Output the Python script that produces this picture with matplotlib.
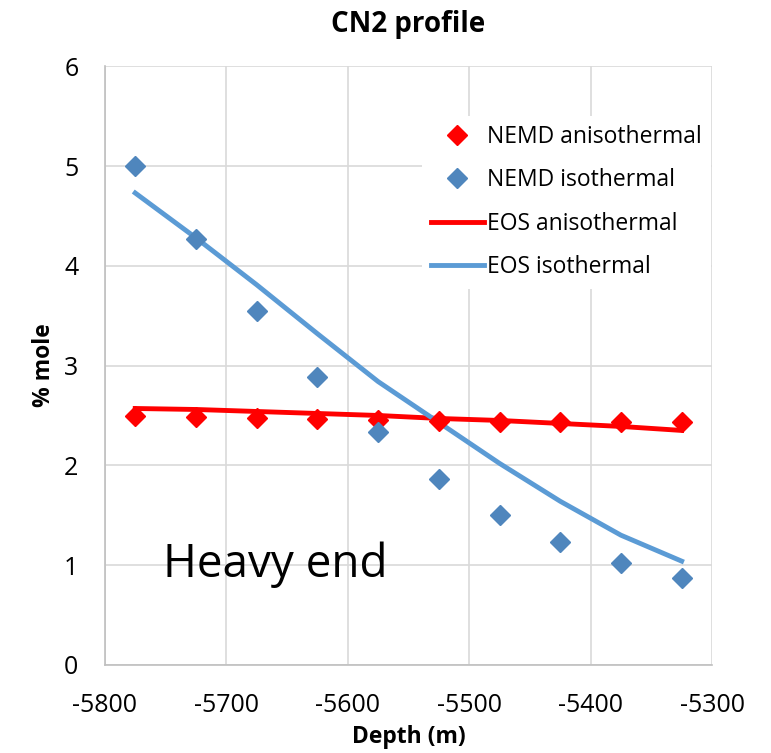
import numpy as np
import matplotlib.pyplot as plt

plt.rcParams['font.family'] = ['Open Sans', 'DejaVu Sans']
plt.rcParams['axes.unicode_minus'] = False

# Depth positions (m)
depth = [-5775, -5725, -5675, -5625, -5575, -5525, -5475, -5425, -5375, -5325]

# NEMD results (% mole)
nemd_aniso = [2.49, 2.48, 2.47, 2.46, 2.45, 2.44, 2.43, 2.43, 2.43, 2.43]
nemd_iso = [5.00, 4.27, 3.55, 2.89, 2.33, 1.86, 1.50, 1.23, 1.02, 0.87]

# EOS results (% mole)
eos_aniso = [2.57, 2.56, 2.54, 2.52, 2.50, 2.47, 2.45, 2.42, 2.39, 2.35]
eos_iso = [4.73, 4.28, 3.81, 3.32, 2.84, 2.43, 2.02, 1.64, 1.30, 1.04]

fig = plt.figure(figsize=(7.71, 7.53), dpi=100)
ax = fig.add_axes([0.136, 0.117, 0.7875, 0.795])

ax.plot(depth, nemd_aniso, linestyle='none', marker='D', markersize=10.5,
        color='#ff0000', label='NEMD anisothermal', zorder=4)
ax.plot(depth, nemd_iso, linestyle='none', marker='D', markersize=10.5,
        color='#4f86bd', label='NEMD isothermal', zorder=4)
ax.plot(depth, eos_aniso, color='#ff0000', lw=3.5, label='EOS anisothermal', zorder=3)
ax.plot(depth, eos_iso, color='#5b9bd5', lw=3.5, label='EOS isothermal', zorder=3)

ax.set_xlim(-5800, -5300)
ax.set_ylim(0, 6)
ax.set_xticks(np.arange(-5800, -5299, 100))
ax.set_yticks(np.arange(0, 7, 1))
ax.tick_params(length=0, labelsize=18)
ax.tick_params(axis='x', pad=20)
ax.tick_params(axis='y', pad=19)
ax.grid(color='#d9d9d9', lw=1.2)
ax.set_axisbelow(True)
for s in ['top', 'right']:
    ax.spines[s].set_visible(False)
for s in ['left', 'bottom']:
    ax.spines[s].set_color('#bfbfbf')
    ax.spines[s].set_linewidth(1.2)

ax.set_title('CN2 profile', fontsize=20, fontweight='bold', pad=25)
ax.set_xlabel('Depth (m)', fontsize=16.5, fontweight='bold', labelpad=5)
ax.set_ylabel('% mole', fontsize=16.5, fontweight='bold', labelpad=6)

ax.text(-5752, 1.0, 'Heavy end', fontsize=33, va='center', ha='left')

leg = ax.legend(loc='upper right', bbox_to_anchor=(1.006, 0.925), fontsize=16.5,
                frameon=True, framealpha=1, edgecolor='none', fancybox=False,
                handlelength=2.3, handletextpad=0.15, labelspacing=0.85,
                borderaxespad=0.2)

fig.savefig('out.png', dpi=100)
